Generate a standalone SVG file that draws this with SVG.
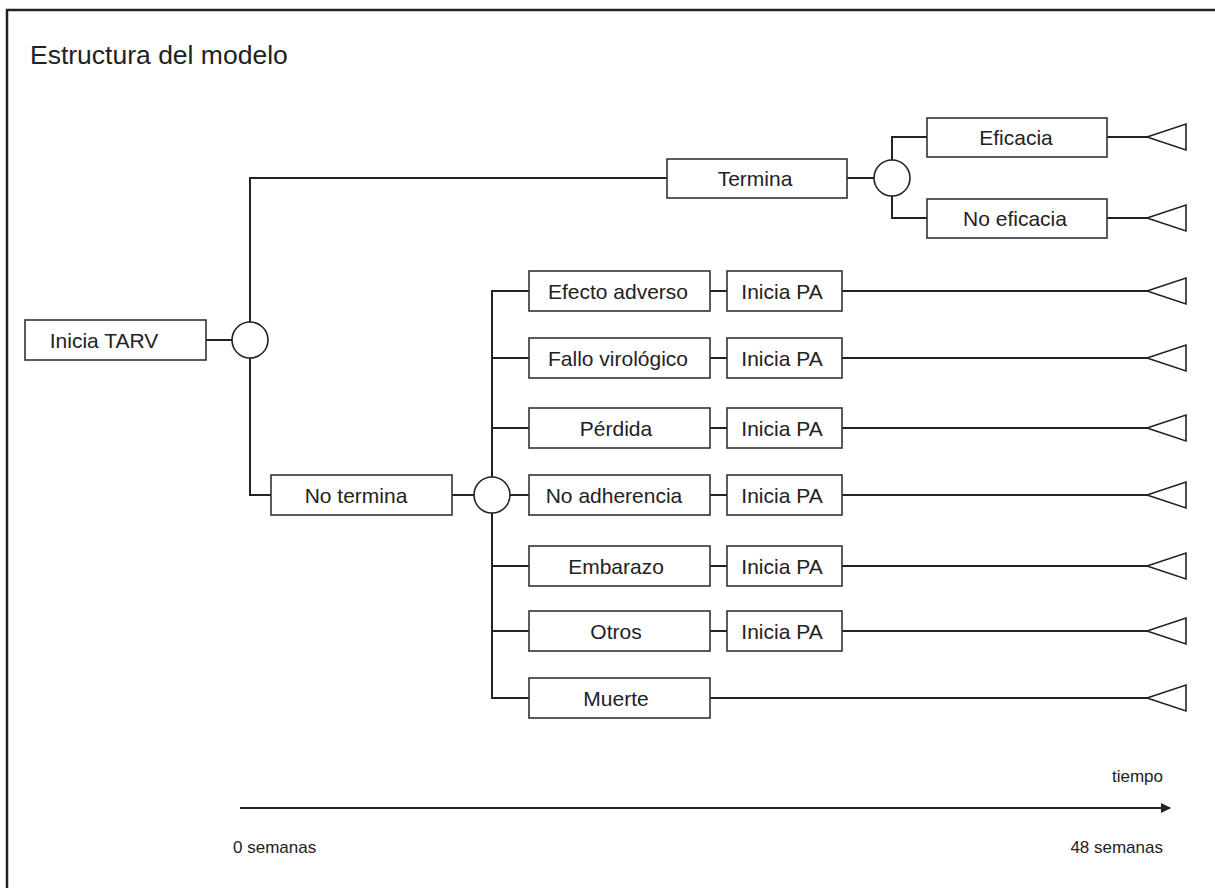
<svg xmlns="http://www.w3.org/2000/svg" width="1215" height="888" viewBox="0 0 1215 888">
<defs>
<style>
.box{fill:#fff;stroke:#333;stroke-width:1.6}
.node{fill:#fff;stroke:#222;stroke-width:1.6}
.ln{fill:none;stroke:#222;stroke-width:2}
.term{fill:#fff;stroke:#222;stroke-width:1.6;stroke-linejoin:miter}
text{font-family:"Liberation Sans",Arial,sans-serif;fill:#222}
.lbl{font-size:21px;text-anchor:middle}
.sm{font-size:17px}
</style>
<marker id="arr" viewBox="0 0 10 10" refX="9" refY="5" markerWidth="10" markerHeight="10" markerUnits="userSpaceOnUse" orient="auto">
<path d="M0,0 L10,5 L0,10 Z" fill="#222"/>
</marker>
<polygon id="tri" points="0,0 39,-13 39,13"/>
</defs>
<rect width="1215" height="888" fill="#fff"/>
<path d="M7,888 V10 H1215" fill="none" stroke="#222" stroke-width="2.5"/>
<text x="30" y="64" font-size="26.5">Estructura del modelo</text>

<g id="connectors">
<path class="ln" d="M206,340 H232"/>
<path class="ln" d="M250,322 V178 H667"/>
<path class="ln" d="M250,358 V495 H271"/>
<path class="ln" d="M847,178 H874"/>
<path class="ln" d="M892,160 V137 H927"/>
<path class="ln" d="M892,196 V218 H927"/>
<path class="ln" d="M1107,137 H1147"/>
<path class="ln" d="M1107,218 H1147"/>
<path class="ln" d="M452,495 H474"/>
<path class="ln" d="M510,495 H529"/>
<path class="ln" d="M492,477 V291 H529"/>
<path class="ln" d="M492,513 V698 H529"/>
<path class="ln" d="M492,358 H529 M492,428 H529 M492,566 H529 M492,631 H529"/>
<path class="ln" d="M710,291 H727 M710,358 H727 M710,428 H727 M710,495 H727 M710,566 H727 M710,631 H727"/>
<path class="ln" d="M842,291 H1147 M842,358 H1147 M842,428 H1147 M842,495 H1147 M842,566 H1147 M842,631 H1147"/>
<path class="ln" d="M710,698 H1147"/>
<path class="ln" d="M240,808 H1170" marker-end="url(#arr)"/>
</g>

<g id="terminals">
<use href="#tri" class="term" x="1147" y="137"/>
<use href="#tri" class="term" x="1147" y="218"/>
<use href="#tri" class="term" x="1147" y="291"/>
<use href="#tri" class="term" x="1147" y="358"/>
<use href="#tri" class="term" x="1147" y="428"/>
<use href="#tri" class="term" x="1147" y="495"/>
<use href="#tri" class="term" x="1147" y="566"/>
<use href="#tri" class="term" x="1147" y="631"/>
<use href="#tri" class="term" x="1147" y="698"/>
</g>

<g id="n-inicia-tarv"><rect class="box" x="25" y="320" width="181" height="40"/><text class="lbl" x="104" y="347.5">Inicia TARV</text></g>
<g id="c-root"><circle class="node" cx="250" cy="340" r="18"/></g>
<g id="n-termina"><rect class="box" x="667" y="159" width="180" height="39"/><text class="lbl" x="755" y="185.5">Termina</text></g>
<g id="c-termina"><circle class="node" cx="892" cy="178" r="18"/></g>
<g id="n-eficacia"><rect class="box" x="927" y="118" width="180" height="39"/><text class="lbl" x="1016" y="144.5">Eficacia</text></g>
<g id="n-no-eficacia"><rect class="box" x="927" y="199" width="180" height="39"/><text class="lbl" x="1015" y="225.5">No eficacia</text></g>
<g id="n-no-termina"><rect class="box" x="271" y="475" width="181" height="40"/><text class="lbl" x="356" y="502.5">No termina</text></g>
<g id="c-no-termina"><circle class="node" cx="492" cy="495" r="18"/></g>

<g id="n-efecto"><rect class="box" x="529" y="271" width="181" height="40"/><text class="lbl" x="618" y="298.5">Efecto adverso</text></g>
<g id="n-fallo"><rect class="box" x="529" y="338" width="181" height="40"/><text class="lbl" x="618" y="365.5">Fallo virológico</text></g>
<g id="n-perdida"><rect class="box" x="529" y="408" width="181" height="40"/><text class="lbl" x="616" y="435.5">Pérdida</text></g>
<g id="n-no-adherencia"><rect class="box" x="529" y="475" width="181" height="40"/><text class="lbl" x="614" y="502.5">No adherencia</text></g>
<g id="n-embarazo"><rect class="box" x="529" y="546" width="181" height="40"/><text class="lbl" x="616" y="573.5">Embarazo</text></g>
<g id="n-otros"><rect class="box" x="529" y="611" width="181" height="40"/><text class="lbl" x="616" y="638.5">Otros</text></g>
<g id="n-muerte"><rect class="box" x="529" y="678" width="181" height="40"/><text class="lbl" x="616" y="705.5">Muerte</text></g>

<g id="n-pa1"><rect class="box" x="727" y="271" width="115" height="40"/><text class="lbl" x="782" y="298.5">Inicia PA</text></g>
<g id="n-pa2"><rect class="box" x="727" y="338" width="115" height="40"/><text class="lbl" x="782" y="365.5">Inicia PA</text></g>
<g id="n-pa3"><rect class="box" x="727" y="408" width="115" height="40"/><text class="lbl" x="782" y="435.5">Inicia PA</text></g>
<g id="n-pa4"><rect class="box" x="727" y="475" width="115" height="40"/><text class="lbl" x="782" y="502.5">Inicia PA</text></g>
<g id="n-pa5"><rect class="box" x="727" y="546" width="115" height="40"/><text class="lbl" x="782" y="573.5">Inicia PA</text></g>
<g id="n-pa6"><rect class="box" x="727" y="611" width="115" height="40"/><text class="lbl" x="782" y="638.5">Inicia PA</text></g>

<g id="timeline-labels">
<text class="sm" x="1163" y="782" text-anchor="end">tiempo</text>
<text class="sm" x="233" y="853">0 semanas</text>
<text class="sm" x="1163" y="853" text-anchor="end">48 semanas</text>
</g>
</svg>
